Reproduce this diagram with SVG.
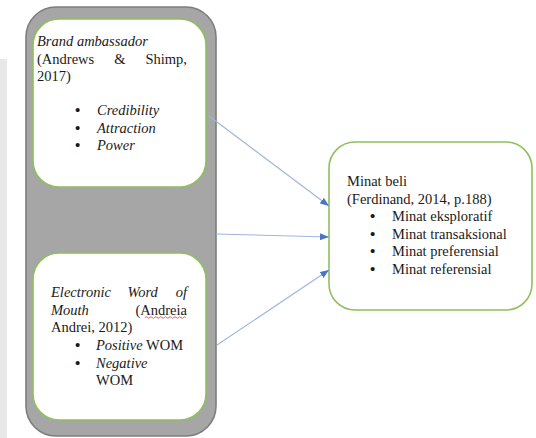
<svg xmlns="http://www.w3.org/2000/svg" width="536" height="438" viewBox="0 0 536 438">
<style>
text{font-family:"Liberation Serif","Times New Roman",serif;font-size:14.5px;fill:#1a1a1a}
.i{font-style:italic}
.b{font-size:15px;font-weight:bold}
.box{fill:#ffffff;stroke:#8fc05c;stroke-width:1.6}
.con{stroke:#9fb4de;stroke-width:1.1;fill:none;marker-end:url(#ah)}
</style>
<defs>
<marker id="ah" markerUnits="userSpaceOnUse" markerWidth="9" markerHeight="7" refX="9" refY="3.5" orient="auto">
<path d="M0,0 L9,3.5 L0,7 z" fill="#4a74c4"/>
</marker>
</defs>
<rect x="0" y="0" width="536" height="438" fill="#ffffff"/>
<rect x="0" y="59" width="7" height="379" fill="#e8e8e8"/>
<g id="group-left">
<rect x="26" y="7" width="190" height="429" rx="30" fill="#a6a6a6" stroke="#7d7d7d" stroke-width="1.6"/>
</g>
<g id="node-brand">
<rect class="box" x="33" y="19" width="173" height="168" rx="26"/>
<text class="i" x="37" y="46">Brand ambassador</text>
<text x="37" y="63.5">(Andrews</text>
<text x="114.2" y="63.5">&amp;</text>
<text x="187" y="63.5" text-anchor="end">Shimp,</text>
<text x="37" y="81">2017)</text>
<text class="b" x="75" y="115">•</text><text class="i" x="97" y="115">Credibility</text>
<text class="b" x="75" y="132.5">•</text><text class="i" x="97" y="132.5">Attraction</text>
<text class="b" x="75" y="150">•</text><text class="i" x="97" y="150">Power</text>
</g>
<g id="node-ewom">
<rect class="box" x="33" y="253" width="173" height="167" rx="26"/>
<text class="i" x="51" y="297">Electronic</text>
<text class="i" x="127.4" y="297">Word</text>
<text class="i" x="187" y="297" text-anchor="end">of</text>
<text class="i" x="51" y="314.5">Mouth</text>
<text x="187" y="314.5" text-anchor="end">(Andreia</text>
<path d="M145,317.5 q1.2,-1.5 2.4,0 t2.4,0 t2.4,0 t2.4,0 t2.4,0 t2.4,0 t2.4,0 t2.4,0 t2.4,0 t2.4,0 t2.4,0 t2.4,0 t2.4,0 t2.4,0 t2.4,0 t2.4,0 t2.4,0" fill="none" stroke="#d23a3a" stroke-width="0.8"/>
<text x="51" y="332">Andrei, 2012)</text>
<text class="b" x="75" y="350">•</text><text x="96" y="350"><tspan class="i">Positive</tspan> WOM</text>
<text class="b" x="75" y="367.5">•</text><text class="i" x="96" y="367.5">Negative</text>
<text x="96" y="385">WOM</text>
</g>
<g id="node-minat">
<rect class="box" x="329" y="142" width="203" height="168" rx="26"/>
<text x="347" y="186">Minat beli</text>
<text x="347" y="203.5">(Ferdinand, 2014, p.188)</text>
<text class="b" x="370" y="221">•</text><text x="392" y="221">Minat eksploratif</text>
<text class="b" x="370" y="238.5">•</text><text x="392" y="238.5">Minat transaksional</text>
<text class="b" x="370" y="256">•</text><text x="392" y="256">Minat preferensial</text>
<text class="b" x="370" y="273.5">•</text><text x="392" y="273.5">Minat referensial</text>
</g>
<g id="connectors">
<line class="con" x1="209" y1="116" x2="329" y2="206"/>
<line class="con" x1="216" y1="234" x2="329" y2="237"/>
<line class="con" x1="217" y1="345" x2="329" y2="270"/>
</g>
</svg>
